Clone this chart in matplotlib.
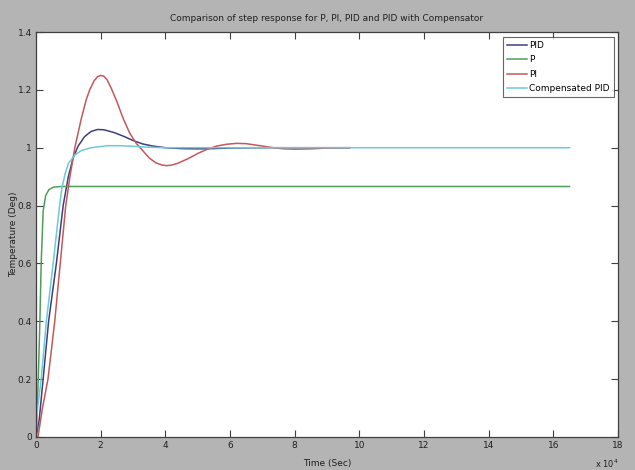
import matplotlib.pyplot as plt
from matplotlib.ticker import FuncFormatter
import numpy as np

# Time values in units of 1e4 seconds
t_pid = [0, 0.1, 0.22, 0.39, 0.63, 0.84, 1.0, 1.15, 1.3, 1.5, 1.7, 1.9, 2.1, 2.4,
         2.7, 3.0, 3.3, 3.6, 4.0, 4.5, 5.0, 5.5, 6.0, 7.0, 8.0, 9.7]
y_pid = [0, 0.06, 0.2, 0.4, 0.6, 0.8, 0.9, 0.965, 1.005, 1.038, 1.056, 1.063, 1.062, 1.053,
         1.04, 1.025, 1.013, 1.006, 1.0, 0.997, 0.996, 0.997, 0.999, 1.0, 1.0, 1.0]

t_p = [0, 0.07, 0.12, 0.16, 0.22, 0.3, 0.4, 0.55, 0.8, 16.5]
y_p = [0, 0.2, 0.4, 0.6, 0.78, 0.835, 0.855, 0.864, 0.866, 0.866]

t_pi = [0, 0.06, 0.2, 0.37, 0.58, 0.75, 0.92, 1.05, 1.2, 1.4, 1.55, 1.66, 1.8, 1.9, 2.0,
        2.1, 2.2, 2.33, 2.5, 2.7, 2.9, 3.1, 3.3, 3.5, 3.7, 3.9, 4.05, 4.2, 4.4, 4.7,
        5.0, 5.3, 5.6, 5.9, 6.2, 6.5, 6.8, 7.1, 7.4, 7.7, 8.0, 8.5, 9.0, 9.7]
y_pi = [0, 0.0, 0.1, 0.2, 0.4, 0.6, 0.8, 0.9, 1.0, 1.1, 1.165, 1.2, 1.232, 1.245, 1.25,
        1.247, 1.235, 1.205, 1.16, 1.1, 1.05, 1.015, 0.99, 0.965, 0.948, 0.94, 0.938, 0.94, 0.947, 0.962,
        0.98, 0.995, 1.006, 1.012, 1.015, 1.014, 1.009, 1.004, 0.999, 0.996, 0.995, 0.996, 0.999, 1.0]

t_comp = [0, 0.05, 0.16, 0.32, 0.53, 0.73, 0.8, 0.9, 1.0, 1.2, 1.4, 1.7, 2.2, 2.6,
          3.0, 3.4, 4.0, 16.5]
y_comp = [0, 0.1, 0.2, 0.4, 0.6, 0.8, 0.86, 0.91, 0.945, 0.975, 0.99, 1.0, 1.007, 1.007,
          1.005, 1.002, 1.0, 1.0]

series = [
    ('PID', t_pid, y_pid, '#3e3e80'),
    ('P', t_p, y_p, '#4f9f5a'),
    ('PI', t_pi, y_pi, '#c4585a'),
    ('Compensated PID', t_comp, y_comp, '#6ccbd4'),
]

plt.rcParams['font.family'] = ['Liberation Sans Narrow', 'DejaVu Sans']

fig = plt.figure(figsize=(6.35, 4.7), dpi=100, facecolor='#b4b4b4')
ax = fig.add_axes([36 / 635, 1 - 437 / 470, 582 / 635, 405 / 470])
ax.set_facecolor('white')

for name, t, y, c in series:
    ax.plot(np.array(t) * 1e4, y, color=c, lw=1.1, label=name)

ax.set_xlim(0, 180000)
ax.set_ylim(0, 1.4)
ax.set_xticks(np.arange(0, 180001, 20000))
ax.set_yticks(np.arange(0, 1.41, 0.2))
ax.xaxis.set_major_formatter(FuncFormatter(lambda v, p: '%g' % (v / 1e4)))
ax.yaxis.set_major_formatter(FuncFormatter(lambda v, p: '%g' % round(v, 1)))
ax.tick_params(direction='in', top=True, right=True, length=5, width=0.8,
               labelsize=6.5, color='#404040', labelcolor='#202020', pad=3)
for s in ax.spines.values():
    s.set_color('#404040')
    s.set_linewidth(0.9)

ax.set_title('Comparison of step response for P, PI, PID and PID with Compensator',
             fontsize=6.5, color='#202020', pad=8)
ax.set_xlabel('Time (Sec)', fontsize=6.5, color='#202020')
ax.set_ylabel('Temperature (Deg)', fontsize=6.5, color='#202020')
ax.yaxis.set_label_coords(-18 / 582, 0.5)
ax.xaxis.set_label_coords(0.5, -22 / 405)
fig.text(607 / 635, 1 - 464 / 470, r'x 10$^4$', fontsize=6, color='#202020',
         ha='center', va='center')

leg = ax.legend(loc='upper right', bbox_to_anchor=(0.993, 0.988), fontsize=6.5,
                frameon=True, fancybox=False, handlelength=2.2, handletextpad=0.3,
                borderpad=0.45, labelspacing=0.6, borderaxespad=0)
leg.get_frame().set_edgecolor('#404040')
leg.get_frame().set_linewidth(0.8)

fig.savefig('out.png', dpi=100, facecolor=fig.get_facecolor())
